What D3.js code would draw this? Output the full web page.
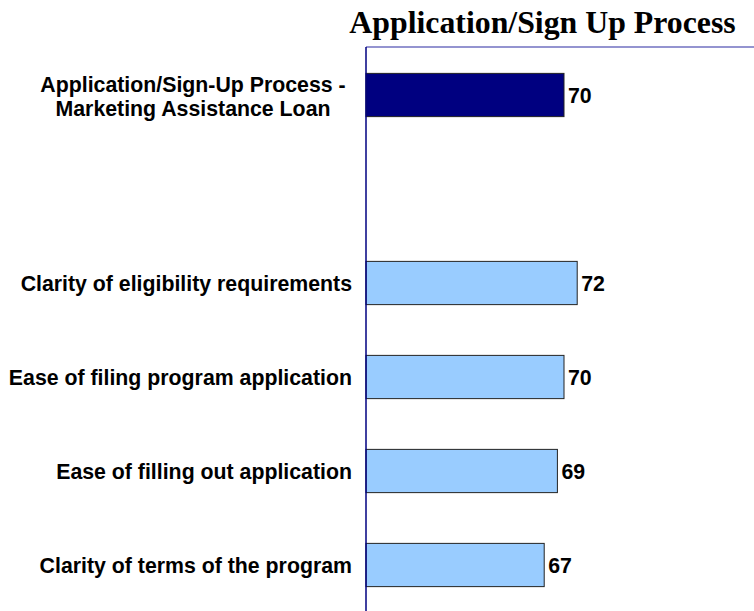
<!DOCTYPE html>
<html lang="en">
<head>
<meta charset="UTF-8">
<title>Application/Sign Up Process</title>
<script src="https://d3js.org/d3.v7.min.js"></script>
<style>
  body { margin: 0; background: #fff; }
</style>
</head>
<body>
<div id="chart"></div>
<script>
    // categories top to bottom; "" is the empty gap slot
    var categories = [
        "Application/Sign-Up Process - Marketing Assistance Loan",
        "",
        "Clarity of eligibility requirements",
        "Ease of filing program application",
        "Ease of filling out application",
        "Clarity of terms of the program"
    ];
    var labelLines = [
        ["Application/Sign-Up Process -", "Marketing Assistance Loan"],
        [],
        ["Clarity of eligibility requirements"],
        ["Ease of filing program application"],
        ["Ease of filling out application"],
        ["Clarity of terms of the program"]
    ];
    var values = [70, null, 72, 70, 69, 67];
    var barColors = ["#000080", null, "#99ccff", "#99ccff", "#99ccff", "#99ccff"];

    var w = 754, h = 611;
    var plotLeft = 366, plotTop = 47;
    var font = "'Liberation Sans', Arial, sans-serif";

    var svg = d3.select("#chart").append("svg")
        .attr("width", w)
        .attr("height", h);

    var x = d3.scaleLinear().domain([40, 100]).range([plotLeft, plotLeft + 396]);
    var y = d3.scaleBand().domain(categories.map(function(d, i) { return i; }))
        .range([plotTop + 1, plotTop + 565])
        .paddingInner(0.54).paddingOuter(0.27);

    // title
    svg.append("text")
        .attr("x", 542.5)
        .attr("y", 33)
        .attr("text-anchor", "middle")
        .style("font-family", "'Liberation Serif', 'Times New Roman', serif")
        .style("font-weight", "bold")
        .style("font-size", "31.8px")
        .text("Application/Sign Up Process");

    // top border
    svg.append("line")
        .attr("x1", plotLeft).attr("x2", w)
        .attr("y1", plotTop).attr("y2", plotTop)
        .attr("stroke", "#7070c0")
        .attr("stroke-width", 1.5);

    var rows = svg.selectAll("g.row")
        .data(values.map(function(v, i) { return { v: v, i: i }; })
            .filter(function(d) { return d.v !== null; }))
        .enter().append("g")
        .attr("class", "row");

    rows.append("rect")
        .attr("x", x(40))
        .attr("y", function(d) { return y(d.i); })
        .attr("width", function(d) { return x(d.v) - x(40); })
        .attr("height", y.bandwidth())
        .attr("fill", function(d) { return barColors[d.i]; })
        .attr("stroke", "#222")
        .attr("stroke-width", 1);

    rows.append("text")
        .attr("x", function(d) { return x(d.v) + 4; })
        .attr("y", function(d) { return y(d.i) + y.bandwidth() / 2 + 8; })
        .style("font-family", font)
        .style("font-weight", "bold")
        .style("font-size", "21.3px")
        .text(function(d) { return d.v; });

    // category labels
    var labelRight = 352;
    rows.each(function(d) {
        var lines = labelLines[d.i];
        var cy = y(d.i) + y.bandwidth() / 2;
        var g = d3.select(this);
        if (lines.length === 1) {
            g.append("text")
                .attr("x", labelRight)
                .attr("y", cy + 8)
                .attr("text-anchor", "end")
                .style("font-family", font)
                .style("font-weight", "bold")
                .style("font-size", "21.3px")
                .text(lines[0]);
        } else {
            var t = g.append("text")
                .attr("text-anchor", "middle")
                .style("font-family", font)
                .style("font-weight", "bold")
                .style("font-size", "21.3px");
            lines.forEach(function(line, k) {
                t.append("tspan")
                    .attr("x", 193)
                    .attr("y", cy - 3.5 + k * 24.5)
                    .text(line);
            });
        }
    });

    // vertical axis line
    svg.append("line")
        .attr("x1", plotLeft).attr("x2", plotLeft)
        .attr("y1", plotTop).attr("y2", h)
        .attr("stroke", "#000080")
        .attr("stroke-width", 1.5);
</script>
</body>
</html>
